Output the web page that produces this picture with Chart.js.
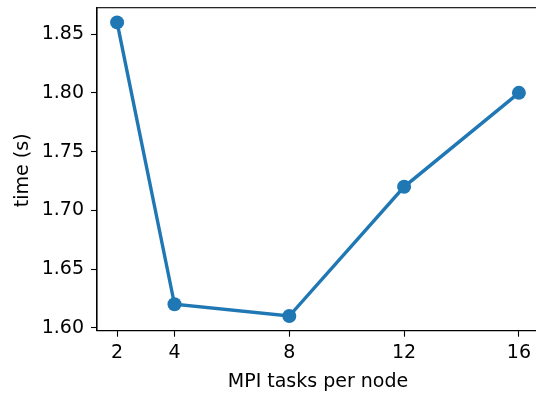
<!DOCTYPE html>
<html>
<head>
<meta charset="utf-8">
<script src="https://cdn.jsdelivr.net/npm/chart.js@4.4.1/dist/chart.umd.min.js"></script>
<style>
html,body{margin:0;padding:0;overflow:hidden;background:#fff;width:536px;height:396px;}
#c{position:absolute;left:0;top:0;}
</style>
</head>
<body>
<canvas id="c" width="539" height="396" style="width:539px;height:396px"></canvas>
<script>
const tasksPerNode = [2, 4, 8, 12, 16];
const timeSeconds = [1.86, 1.62, 1.61, 1.72, 1.80];
const xTickValues = [2, 4, 8, 12, 16];
const yTickValues = [1.60, 1.65, 1.70, 1.75, 1.80, 1.85];
const xAxisLabel = 'MPI tasks per node';
const yAxisLabel = 'time (s)';

const FONT = 'DejaVu Sans';
const FS = 19;
const BLUE = '#1f77b4';

const framePlugin = {
  id: 'frame',
  afterDraw(chart) {
    const {ctx, chartArea: a} = chart;
    ctx.save();
    ctx.strokeStyle = '#000';
    ctx.lineWidth = 1.1;
    ctx.strokeRect(a.left, a.top, a.right - a.left, a.bottom - a.top);
    ctx.fillStyle = '#000';
    ctx.font = FS + 'px "' + FONT + '"';
    ctx.textAlign = 'center';
    ctx.textBaseline = 'alphabetic';
    ctx.fillText(xAxisLabel, (a.left + a.right) / 2, 386.5);
    ctx.translate(28.3, 170.3);
    ctx.rotate(-Math.PI / 2);
    ctx.fillText(yAxisLabel, 0, 0);
    ctx.restore();
  }
};

new Chart(document.getElementById('c'), {
  type: 'line',
  data: {
    datasets: [{
      data: tasksPerNode.map((x, i) => ({x: x, y: timeSeconds[i]})),
      borderColor: BLUE,
      backgroundColor: BLUE,
      borderWidth: 3.4,
      pointRadius: 7,
      pointHoverRadius: 7,
      pointBorderWidth: 0,
      pointBackgroundColor: BLUE,
      tension: 0,
      fill: false,
      clip: false
    }]
  },
  options: {
    responsive: false,
    animation: false,
    events: [],
    layout: {autoPadding: false, padding: {top: 7.7, right: 0, bottom: 0, left: 0}},
    plugins: {legend: {display: false}, tooltip: {enabled: false}},
    scales: {
      x: {
        type: 'linear',
        min: 1.3,
        max: 16.7,
        afterBuildTicks(s) { s.ticks = xTickValues.map(v => ({value: v})); },
        afterFit(s) { s.height = 65.3; s.paddingLeft = 0; s.paddingRight = 0; },
        grid: {display: true, drawOnChartArea: false, drawTicks: true, tickLength: 6, tickWidth: 1.1, tickColor: '#000'},
        border: {display: true, color: '#000', width: 1.1},
        ticks: {color: '#000', font: {family: FONT, size: FS}, padding: 4.5, maxRotation: 0, autoSkip: false,
                callback: v => String(v)}
      },
      y: {
        type: 'linear',
        min: 1.5975,
        max: 1.8725,
        afterBuildTicks(s) { s.ticks = yTickValues.map(v => ({value: v})); },
        afterFit(s) { s.width = 97; s.paddingTop = 0; s.paddingBottom = 0; },
        grid: {display: true, drawOnChartArea: false, drawTicks: true, tickLength: 6, tickWidth: 1.1, tickColor: '#000'},
        border: {display: true, color: '#000', width: 1.1},
        ticks: {color: '#000', font: {family: FONT, size: FS}, padding: 7, autoSkip: false,
                callback: v => Number(v).toFixed(2)}
      }
    }
  },
  plugins: [framePlugin]
});
</script>
</body>
</html>
